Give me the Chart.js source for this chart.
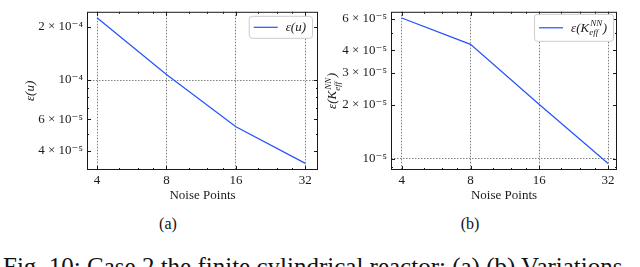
<!DOCTYPE html>
<html>
<head>
<meta charset="utf-8">
<script src="https://cdn.jsdelivr.net/npm/chart.js@4/dist/chart.umd.min.js"></script>
<style>
    body { margin: 0; width: 640px; height: 267px; overflow: hidden; background: #fff; position: relative; font-family: "Liberation Serif", serif; color: #111; }
    canvas { position: absolute; top: 0; }
    #chartA { left: 0; }
    #chartB { left: 320px; }
    .sub { position: absolute; top: 216px; font-size: 16px; line-height: 16px; transform: translateX(-50%); }
    #caption { position: absolute; left: 3px; top: 254px; font-size: 25px; line-height: 25px; white-space: nowrap; }
</style>
</head>
<body>
<canvas id="chartA" width="320" height="210"></canvas>
<canvas id="chartB" width="320" height="210"></canvas>
<div class="sub" style="left:168px">(a)</div>
<div class="sub" style="left:470px">(b)</div>
<div id="caption">Fig. 10: Case 2 the finite cylindrical reactor: (a) (b) Variations</div>
<script>
// data
const noisePoints = [4, 8, 16, 32];
const errU = [2.24e-4, 1.075e-4, 5.46e-5, 3.4e-5];
const errK = [6.05e-5, 4.32e-5, 2.0e-5, 9.4e-6];
const seriesLabels = ['ε(u)', 'ε(K_{eff}^{NN})'];

const xTickValues = [4, 8, 16, 32];
const xMinorValues = [5, 6, 7, 10, 12, 14, 20, 24, 28];

const yTicksU = [4e-5, 6e-5, 1e-4, 2e-4];
const yLabelsU = ['4 × 10⁻⁵', '6 × 10⁻⁵', '10⁻⁴', '2 × 10⁻⁴'];
const yMinorU = [5e-5, 7e-5, 8e-5, 9e-5];

const yTicksK = [1e-5, 2e-5, 3e-5, 4e-5, 6e-5];
const yLabelsK = ['10⁻⁵', '2 × 10⁻⁵', '3 × 10⁻⁵', '4 × 10⁻⁵', '6 × 10⁻⁵'];
const yMinorK = [9e-6, 5e-5];

const lineBlue = '#2352ff';
const ink = '#1a1a1a';
const serif = '"Liberation Serif", "DejaVu Serif", serif';

// draws text like K_{eff}^{NN} with stacked sub/superscripts
function drawMath(ctx, str, x, y, size, align) {
    const parts = [];
    let i = 0, buf = '';
    const readGroup = () => {
        if (str[i] === '{') {
            const j = str.indexOf('}', i);
            const g = str.slice(i + 1, j);
            i = j + 1;
            return g;
        }
        return str[i++];
    };
    while (i < str.length) {
        const c = str[i];
        if (c === '_' || c === '^') {
            if (buf) { parts.push({ t: buf }); buf = ''; }
            const sc = { sub: '', sup: '' };
            while (str[i] === '_' || str[i] === '^') {
                const k = str[i++];
                const g = readGroup();
                if (k === '_') sc.sub = g; else sc.sup = g;
            }
            parts.push(sc);
        } else {
            buf += c;
            i++;
        }
    }
    if (buf) parts.push({ t: buf });

    const main = `italic ${size}px ${serif}`;
    const small = `italic ${Math.round(size * 0.72)}px ${serif}`;
    const widths = parts.map(p => {
        if (p.t !== undefined) { ctx.font = main; return ctx.measureText(p.t).width; }
        ctx.font = small;
        return Math.max(ctx.measureText(p.sub).width, ctx.measureText(p.sup).width) + 1.5;
    });
    const total = widths.reduce((a, b) => a + b, 0);
    let cx = align === 'center' ? x - total / 2 : x;
    ctx.textAlign = 'left';
    ctx.textBaseline = 'alphabetic';
    parts.forEach((p, k) => {
        if (p.t !== undefined) {
            ctx.font = main;
            ctx.fillText(p.t, cx, y);
        } else {
            ctx.font = small;
            if (p.sup) ctx.fillText(p.sup, cx + 1, y - size * 0.42);
            if (p.sub) ctx.fillText(p.sub, cx, y + size * 0.28);
        }
        cx += widths[k];
    });
    return total;
}

function measureMath(ctx, str, size) {
    ctx.save();
    ctx.globalAlpha = 0;
    const w = drawMath(ctx, str, -1000, -1000, size, 'left');
    ctx.restore();
    return w;
}

// frame with inward ticks on all four sides, y title, boxed legend
const decor = {
    id: 'decor',
    afterDatasetsDraw(chart, args, opts) {
        const { ctx, chartArea: a, scales } = chart;
        ctx.save();
        ctx.strokeStyle = ink;
        ctx.lineWidth = 1;
        ctx.strokeRect(a.left + 0.5, a.top + 0.5, a.right - a.left - 1, a.bottom - a.top - 1);
        const tick = (x1, y1, x2, y2) => {
            ctx.beginPath(); ctx.moveTo(x1, y1); ctx.lineTo(x2, y2); ctx.stroke();
        };
        const xs = (vals, len) => vals.forEach(v => {
            const px = Math.round(scales.x.getPixelForValue(v)) + 0.5;
            tick(px, a.bottom, px, a.bottom - len);
            tick(px, a.top, px, a.top + len);
        });
        const ys = (vals, len) => vals.forEach(v => {
            const py = Math.round(scales.y.getPixelForValue(v)) + 0.5;
            if (py < a.top || py > a.bottom) return;
            tick(a.left, py, a.left + len, py);
            tick(a.right, py, a.right - len, py);
        });
        xs(xTickValues, 4);
        xs(xMinorValues, 2);
        ys(opts.yMajor, 4);
        ys(opts.yMinor, 2);

        // y axis title
        ctx.fillStyle = ink;
        ctx.save();
        ctx.translate(opts.titleX, (a.top + a.bottom) / 2);
        ctx.rotate(-Math.PI / 2);
        drawMath(ctx, opts.title, 0, 4, 13, 'center');
        ctx.restore();
        ctx.restore();
    },
    afterDraw(chart, args, opts) {
        const { ctx, chartArea: a } = chart;
        const label = chart.data.datasets[0].label;
        const size = 13;
        const tw = measureMath(ctx, label, size);
        const w = 5 + 24 + 8 + tw + 6;
        const h = opts.legendH;
        const x = a.right - opts.legendInset[0] - w;
        const y = a.top + opts.legendInset[1];
        ctx.save();
        ctx.fillStyle = '#fff';
        ctx.strokeStyle = '#cccccc';
        ctx.lineWidth = 1;
        ctx.beginPath();
        ctx.roundRect(x + 0.5, y + 0.5, w, h, 3);
        ctx.fill();
        ctx.stroke();
        const my = y + h / 2 + 0.5;
        ctx.strokeStyle = lineBlue;
        ctx.lineWidth = 1.2;
        ctx.beginPath();
        ctx.moveTo(x + 5, my);
        ctx.lineTo(x + 29, my);
        ctx.stroke();
        ctx.fillStyle = ink;
        drawMath(ctx, label, x + 37, my + 4, size, 'left');
        ctx.restore();
    }
};

function makeChart(id, cfg) {
    return new Chart(document.getElementById(id), {
        type: 'line',
        data: {
            datasets: [{
                label: cfg.label,
                data: noisePoints.map((x, i) => ({ x: x, y: cfg.values[i] })),
                borderColor: lineBlue,
                borderWidth: 1.2,
                pointRadius: 0,
                tension: 0,
                fill: false
            }]
        },
        options: {
            responsive: false,
            animation: false,
            events: [],
            layout: { padding: cfg.padding },
            plugins: {
                legend: { display: false },
                tooltip: { enabled: false },
                decor: {
                    yMajor: cfg.yTicks,
                    yMinor: cfg.yMinor,
                    title: cfg.label,
                    titleX: cfg.titleX,
                    legendH: cfg.legendH,
                    legendInset: cfg.legendInset
                }
            },
            scales: {
                x: {
                    type: 'logarithmic',
                    min: cfg.xRange[0],
                    max: cfg.xRange[1],
                    afterBuildTicks: s => { s.ticks = xTickValues.map(v => ({ value: v })); },
                    afterFit: s => { s.height = 40; },
                    ticks: {
                        autoSkip: false,
                        maxRotation: 0,
                        padding: 3,
                        color: ink,
                        font: { family: serif, size: 13 },
                        callback: v => String(v)
                    },
                    grid: { color: 'rgba(0,0,0,0.5)', lineWidth: 1, drawTicks: false },
                    border: { display: false, dash: [1.5, 1.5] },
                    title: {
                        display: true,
                        text: 'Noise Points',
                        color: ink,
                        font: { family: serif, size: 13 },
                        padding: { top: 0, bottom: 7 }
                    }
                },
                y: {
                    type: 'logarithmic',
                    min: cfg.yRange[0],
                    max: cfg.yRange[1],
                    afterBuildTicks: s => { s.ticks = cfg.yTicks.map(v => ({ value: v })); },
                    afterFit: s => { s.width = cfg.yWidth; },
                    ticks: {
                        autoSkip: false,
                        padding: 4,
                        color: ink,
                        font: { family: serif, size: 13 },
                        callback: (v, i) => cfg.yLabels[i]
                    },
                    grid: {
                        color: c => {
                            const e = Math.log10(c.tick.value);
                            return Math.abs(e - Math.round(e)) < 1e-6 ? 'rgba(0,0,0,0.5)' : 'transparent';
                        },
                        lineWidth: 1,
                        drawTicks: false
                    },
                    border: { display: false, dash: [1.5, 1.5] }
                }
            }
        },
        plugins: [decor]
    });
}

makeChart('chartA', {
    label: seriesLabels[0],
    values: errU,
    yTicks: yTicksU,
    yLabels: yLabelsU,
    yMinor: yMinorU,
    xRange: [3.62, 36.3],
    yRange: [3.12e-5, 2.42e-4],
    yWidth: 87,
    padding: { top: 1, right: 2, left: 0, bottom: 0 },
    titleX: 30,
    legendH: 22,
    legendInset: [6, 4]
});

makeChart('chartB', {
    label: seriesLabels[1],
    values: errK,
    yTicks: yTicksK,
    yLabels: yLabelsK,
    yMinor: yMinorK,
    xRange: [3.59, 35.0],
    yRange: [8.65e-6, 6.55e-5],
    yWidth: 71,
    padding: { top: 3, right: 23, left: 0, bottom: 0 },
    titleX: 12,
    legendH: 27,
    legendInset: [4, 2]
});
</script>
</body>
</html>
